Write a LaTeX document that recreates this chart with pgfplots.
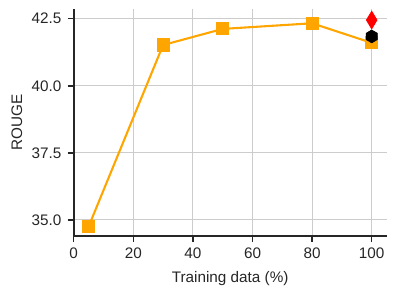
\documentclass[border=0pt]{standalone}
\usepackage{fontspec}
\setmainfont{Liberation Sans}
\usepackage{pgfplots}
\pgfplotsset{compat=1.18}
\definecolor{spine}{HTML}{262626}
\definecolor{gridc}{HTML}{CCCCCC}
\definecolor{orangec}{HTML}{FFA500}
\pgfdeclareplotmark{hexa}{%
  \pgfpathmoveto{\pgfqpointpolar{90}{\pgfplotmarksize}}%
  \pgfpathlineto{\pgfqpointpolar{150}{\pgfplotmarksize}}%
  \pgfpathlineto{\pgfqpointpolar{210}{\pgfplotmarksize}}%
  \pgfpathlineto{\pgfqpointpolar{270}{\pgfplotmarksize}}%
  \pgfpathlineto{\pgfqpointpolar{330}{\pgfplotmarksize}}%
  \pgfpathlineto{\pgfqpointpolar{30}{\pgfplotmarksize}}%
  \pgfpathclose\pgfusepathqfillstroke}
\pgfdeclareplotmark{thind}{%
  \pgfpathmoveto{\pgfqpoint{0pt}{\pgfplotmarksize}}%
  \pgfpathlineto{\pgfqpoint{0.6\pgfplotmarksize}{0pt}}%
  \pgfpathlineto{\pgfqpoint{0pt}{-\pgfplotmarksize}}%
  \pgfpathlineto{\pgfqpoint{-0.6\pgfplotmarksize}{0pt}}%
  \pgfpathclose\pgfusepathqfillstroke}
\pgfplotstableread{
x y
5 34.75
30 41.52
50 42.12
80 42.33
100 41.60
}\maindata
\begin{document}
\begin{tikzpicture}
\useasboundingbox (0,0) rectangle (285.12pt,213.12pt);
\begin{axis}[
  at={(53.06pt,43.2pt)}, anchor=south west,
  scale only axis, width=225.3pt, height=163.2pt,
  xmin=0, xmax=105, ymin=34.4, ymax=42.85,
  axis x line*=bottom, axis y line*=left,
  axis line style={spine, line width=1.25pt, -},
  xtick={0,20,40,60,80,100},
  ytick={35,37.5,40,42.5},
  yticklabel style={/pgf/number format/fixed, /pgf/number format/fixed zerofill, /pgf/number format/precision=1},
  /pgf/number format/assume math mode=true,
  tick align=outside, tick pos=left,
  major tick length=4.3pt,
  every tick/.style={spine, line width=1.1pt},
  tick label style={font=\fontsize{11}{13}\selectfont, text=spine},
  xticklabel style={yshift=-1pt},
  yticklabel style={xshift=-1pt},
  grid=major,
  major grid style={gridc, line width=0.8pt},
  xlabel={Training data (\%)}, ylabel={ROUGE},
  label style={font=\fontsize{11}{13}\selectfont, text=spine},
  xlabel style={yshift=-2.2pt},
  clip=false,
]
\addplot[orangec, line width=1.5pt, mark=square*, mark size=4.3pt, mark options={fill=orangec, draw=orangec, line width=0.8pt}] table[x=x,y=y] {\maindata};
\addplot[only marks, mark=hexa, mark size=4.6pt, mark options={fill=black, draw=black, line width=0.5pt}] coordinates {(100,41.84)};
\addplot[only marks, mark=thind, mark size=6.4pt, mark options={fill=red, draw=red, line width=0.5pt}] coordinates {(100,42.45)};
\end{axis}
\end{tikzpicture}
\end{document}
